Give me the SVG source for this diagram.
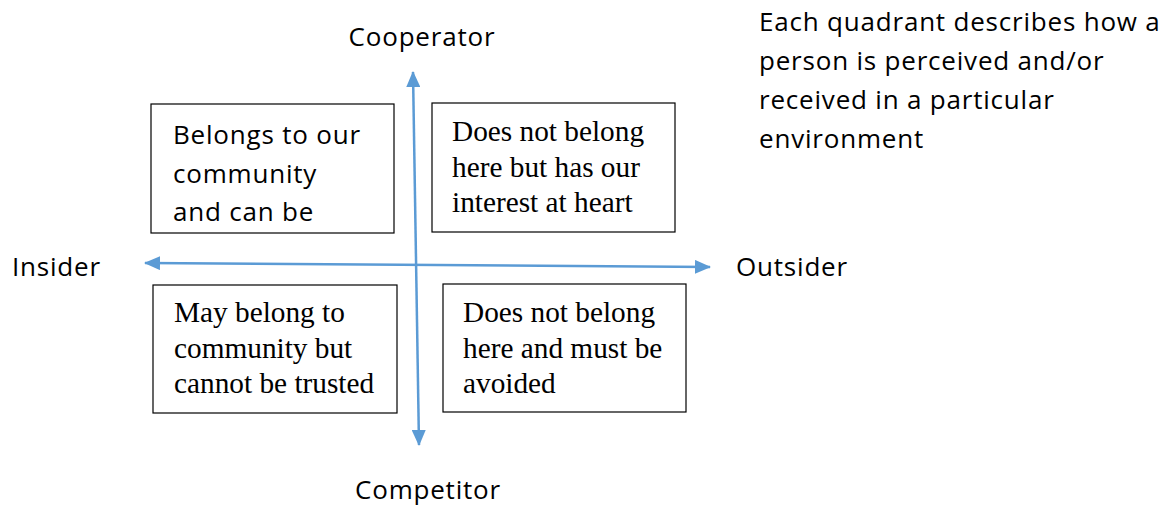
<svg xmlns="http://www.w3.org/2000/svg" width="1166" height="508" viewBox="0 0 1166 508">
<style>
.box{fill:#fff;stroke:#000;stroke-width:1.2}
.sans{font-family:"Open Sans","Noto Sans","Liberation Sans",sans-serif;font-size:26px;letter-spacing:0.8px;fill:#000}
.serif{font-family:"Liberation Serif","Times New Roman",serif;font-size:29.3px;fill:#000}
.axis{stroke:#5B9BD5;stroke-width:2.5;fill:none}
</style>
<defs>
<marker id="ah" markerWidth="16" markerHeight="14" refX="15" refY="7" orient="auto" markerUnits="userSpaceOnUse" viewBox="0 0 16 14">
<path d="M0,0 L16,7 L0,14 Z" fill="#5B9BD5"/>
</marker>
<marker id="ahs" markerWidth="16" markerHeight="14" refX="1" refY="7" orient="auto" markerUnits="userSpaceOnUse" viewBox="0 0 16 14">
<path d="M16,0 L0,7 L16,14 Z" fill="#5B9BD5"/>
</marker>
</defs>
<g id="connectors">
<line class="axis" x1="413" y1="72" x2="419" y2="445" marker-start="url(#ahs)" marker-end="url(#ah)"/>
<line class="axis" x1="145" y1="263" x2="710" y2="267" marker-start="url(#ahs)" marker-end="url(#ah)"/>
</g>
<g id="q-top-left">
<rect class="box" x="151" y="104" width="243" height="129"/>
<text class="sans" x="173" y="144">Belongs to our</text>
<text class="sans" x="173" y="183">community</text>
<text class="sans" x="173" y="221">and can be</text>
</g>
<g id="q-top-right">
<rect class="box" x="432" y="103" width="243" height="129"/>
<text class="serif" x="452" y="141">Does not belong</text>
<text class="serif" x="452" y="177">here but has our</text>
<text class="serif" x="452" y="212">interest at heart</text>
</g>
<g id="q-bottom-left">
<rect class="box" x="153" y="285" width="244" height="128"/>
<text class="serif" x="174" y="322">May belong to</text>
<text class="serif" x="174" y="358">community but</text>
<text class="serif" x="174" y="393">cannot be trusted</text>
</g>
<g id="q-bottom-right">
<rect class="box" x="443" y="284" width="243" height="128"/>
<text class="serif" x="463" y="322">Does not belong</text>
<text class="serif" x="463" y="358">here and must be</text>
<text class="serif" x="463" y="393">avoided</text>
</g>
<g id="label-cooperator"><text class="sans" x="422" y="46" text-anchor="middle">Cooperator</text></g>
<g id="label-competitor"><text class="sans" x="428" y="499" text-anchor="middle">Competitor</text></g>
<g id="label-insider"><text class="sans" x="12" y="276">Insider</text></g>
<g id="label-outsider"><text class="sans" x="736" y="276">Outsider</text></g>
<g id="note">
<text class="sans" x="759" y="31">Each quadrant describes how a</text>
<text class="sans" x="759" y="70">person is perceived and/or</text>
<text class="sans" x="759" y="109">received in a particular</text>
<text class="sans" x="759" y="148">environment</text>
</g>
</svg>
